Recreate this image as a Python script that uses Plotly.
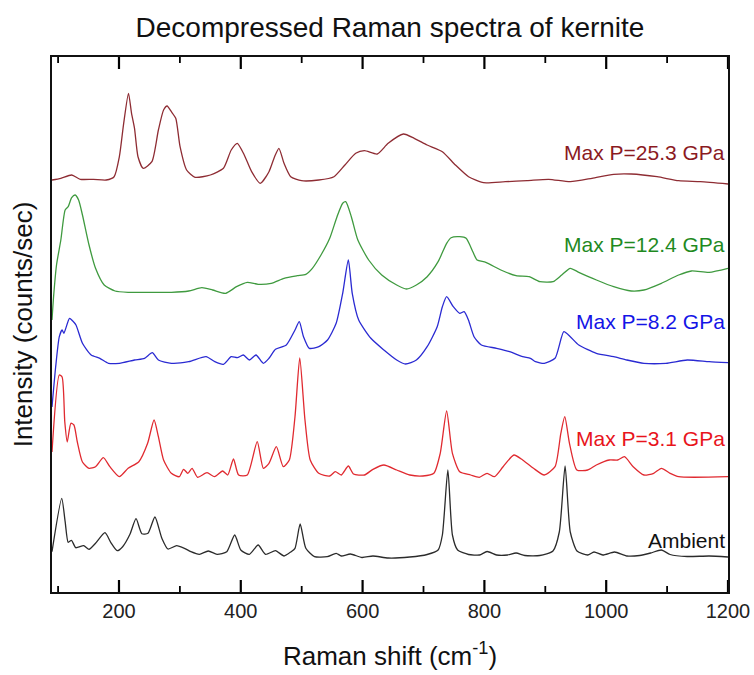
import plotly.graph_objects as go

# Raman shift (cm^-1) and stacked intensity (counts/sec, offset per spectrum)
ambient_x = [90, 106, 111.6, 116.6, 122, 129, 142, 150.8, 161.5, 177, 186.4, 197, 206, 218, 228,
             237.6, 247.6, 259, 270.4, 280.4, 294.6, 307.4, 318, 332, 346.6, 361, 377, 390, 400,
             414, 428.5, 440.6, 457, 471, 482.6, 489, 497.5, 506.8, 521, 542, 556.6, 565, 580,
             599, 617, 642, 677.6, 706, 724, 731, 740, 747.5, 756, 774, 792, 804.4, 820, 838,
             852, 866.4, 891, 912.6, 923, 932.5, 941, 952, 969.6, 980, 994.5, 1013.7, 1034,
             1055, 1073, 1090.6, 1105, 1133, 1169, 1200]
ambient_y = [40.3, 93.7, 70.3, 49.7, 51.7, 44.3, 46.3, 42.7, 48.7, 59.3, 49.7, 41.3, 45.3, 57.7,
             73.3, 58.3, 58.7, 75.0, 53.7, 43.0, 46.3, 43.7, 40.3, 37.7, 41.0, 37.7, 40.3, 57.0,
             42.0, 37.7, 47.0, 37.7, 41.3, 36.0, 40.3, 43.7, 68.0, 43.7, 35.3, 35.3, 38.7, 36.0,
             38.0, 34.5, 36.0, 34.0, 35.0, 37.5, 42.0, 57.0, 122.0, 57.0, 42.0, 37.5, 37.0, 40.5,
             37.0, 37.0, 39.0, 36.5, 36.5, 41.0, 60.0, 126.0, 60.0, 41.0, 37.0, 40.0, 37.0,
             40.0, 36.0, 36.5, 39.0, 42.0, 37.5, 35.5, 36.0, 35.0]

p31_x = [90, 102, 106.6, 111, 115, 121, 126, 131.6, 140, 150.8, 161.5, 174.3, 185, 200.6, 215,
         232.6, 247, 257.6, 264.7, 273.2, 286, 299, 306, 313, 320, 329, 344.5, 357, 370, 378.6,
         388, 396.4, 410.7, 427, 437, 446.3, 458.4, 469.8, 479.7, 489, 496.8, 505.4, 514, 528,
         546, 555.2, 565, 576.6, 585, 603, 617, 635, 656, 677.6, 699, 717, 727.5, 738, 747.5,
         759.5, 777.4, 791.6, 804.4, 816.5, 830.7, 848.5, 862.8, 880.6, 898.4, 916, 925.5, 932,
         939.7, 951.8, 969.6, 983.8, 1005, 1019, 1030, 1044.3, 1062, 1078, 1090.6, 1105, 1119,
         1200]
p31_y = [140.0, 217.0, 215.0, 170.0, 150.0, 168.7, 167.0, 150.0, 130.0, 123.7, 125.3, 134.3,
         125.3, 115.3, 123.7, 130.3, 148.7, 172.0, 155.3, 132.0, 118.7, 115.3, 122.7, 118.7,
         123.7, 114.7, 119.3, 115.3, 121.0, 117.0, 133.0, 117.0, 117.0, 150.3, 123.7, 128.7,
         145.3, 125.3, 132.0, 175.3, 234.0, 172.0, 132.0, 118.7, 116.0, 120.3, 117.0, 126.0,
         118.0, 117.0, 122.7, 127.0, 122.0, 117.0, 116.0, 118.7, 138.7, 181.0, 138.7, 120.3,
         117.0, 114.7, 118.7, 115.3, 125.3, 137.0, 132.0, 123.7, 117.0, 125.3, 158.7, 175.3,
         148.7, 122.0, 122.0, 127.0, 132.0, 132.0, 135.3, 125.3, 117.0, 118.7, 123.7, 118.7,
         115.3, 115.3]

p82_x = [90, 96, 102, 106.6, 109.5, 118.7, 123.7, 129.4, 140, 154.3, 168.6, 182.8, 200.6, 225.5,
         242, 254.7, 264.7, 286, 314.5, 343, 357.3, 371.5, 384.3, 394.3, 404.2, 414.2, 425, 437,
         446.3, 457, 474.7, 489, 496, 503, 512.5, 528.1, 542.4, 556.6, 567.3, 576.6, 583, 593.6,
         613.6, 635, 656, 670.5, 688.3, 706, 722.5, 731, 738, 748.9, 759.5, 766.7, 773.8, 783,
         795, 820, 841.4, 862.8, 875.6, 884, 898.4, 916, 930.4, 941, 955, 983.8, 1012.3, 1034,
         1062, 1098, 1133, 1169, 1200]
p82_y = [185.0, 225.0, 255.3, 262.0, 258.7, 273.7, 271.3, 267.0, 248.7, 237.0, 233.7, 228.7,
         228.7, 232.0, 233.7, 239.3, 232.0, 228.7, 230.3, 235.3, 230.3, 227.7, 235.3, 234.3,
         237.0, 232.0, 237.0, 228.7, 233.7, 242.7, 247.0, 262.0, 270.3, 255.3, 243.7, 245.3,
         252.0, 268.7, 298.7, 332.0, 298.7, 272.0, 253.7, 242.0, 232.0, 228.0, 232.0, 245.3,
         265.3, 285.3, 295.3, 285.3, 278.7, 280.3, 272.0, 255.3, 247.0, 243.7, 240.3, 235.3,
         233.7, 230.3, 228.7, 233.7, 260.3, 255.3, 247.0, 238.7, 235.3, 232.0, 228.7, 228.7,
         232.0, 230.3, 229.3]

p124_x = [90, 92.4, 97.4, 104.5, 111.6, 116.6, 122.3, 128, 133.7, 140, 150.8, 161.5, 175.7,
          193.5, 215, 250.5, 286, 314.5, 336, 353.7, 375, 393, 410.7, 428.5, 450, 471, 492.5,
          506.8, 517.5, 531.7, 546, 558, 567.3, 572.3, 581.5, 592.2, 610, 631.4, 656, 672,
          688.3, 706, 724, 738, 745.3, 759.5, 770, 781, 788, 802.3, 827, 852, 873.5, 891.2,
          912.6, 927, 941, 955, 984, 1012.3, 1041, 1062, 1090.6, 1119, 1140, 1169, 1200]
p124_y = [272.0, 293.7, 327.0, 352.0, 382.0, 385.3, 394.3, 397.0, 392.0, 377.0, 347.0, 323.7,
          307.0, 301.0, 299.7, 299.7, 299.7, 301.0, 304.3, 302.0, 298.7, 305.3, 309.7, 307.7,
          308.7, 313.7, 316.3, 317.7, 323.7, 337.0, 353.7, 375.3, 388.7, 390.3, 375.3, 352.0,
          332.0, 317.0, 307.0, 303.0, 307.0, 315.3, 330.3, 348.7, 354.3, 355.3, 353.7, 340.3,
          332.0, 329.7, 322.0, 316.3, 315.3, 310.3, 310.3, 317.0, 323.7, 319.7, 312.0, 305.3,
          301.0, 302.0, 308.7, 317.0, 321.0, 319.7, 323.7]

p253_x = [90, 104.5, 122.3, 136.5, 158, 179, 192, 200.6, 207.7, 215.6, 220.6, 225.5, 231.2,
          239.8, 254, 264.7, 273.2, 279, 286, 293.2, 300.3, 311, 325, 350, 371.5, 384.3, 394.3,
          405.7, 417.8, 432, 446.3, 455.5, 462.6, 471, 482, 499.7, 528, 553, 571, 588.7, 603,
          624, 642, 667, 684.8, 706, 731, 752.4, 774, 798.7, 834.3, 870, 905.5, 941, 976.7,
          1012.3, 1041, 1083.5, 1119, 1154.7, 1200]
p253_y = [412.0, 413.7, 417.0, 412.7, 412.7, 412.0, 415.3, 435.3, 468.7, 498.7, 478.7, 463.7,
          435.3, 423.7, 430.3, 462.0, 482.0, 486.0, 480.3, 473.7, 445.3, 422.0, 414.7, 417.0,
          423.7, 442.0, 448.7, 437.0, 420.3, 408.7, 420.3, 435.3, 443.7, 428.7, 415.3, 411.3,
          412.0, 415.3, 427.0, 438.7, 441.3, 438.0, 448.7, 458.0, 453.7, 447.0, 440.3, 427.0,
          415.3, 409.3, 410.3, 411.3, 412.7, 410.3, 413.7, 417.7, 418.0, 415.3, 411.3, 410.3,
          408.0]

series_names = ["Ambient", "Max P=3.1 GPa", "Max P=8.2 GPa", "Max P=12.4 GPa", "Max P=25.3 GPa"]
series_x = [ambient_x, p31_x, p82_x, p124_x, p253_x]
series_y = [ambient_y, p31_y, p82_y, p124_y, p253_y]
line_colors = ["#2b2b2b", "#e02a30", "#2a2ad2", "#3f9a3f", "#8e2c33"]
text_colors = ["#111111", "#e8141c", "#1414e6", "#1f8a1f", "#8b1a1f"]
label_y = [52, 154, 271, 348, 440]

major_ticks = [200, 400, 600, 800, 1000, 1200]
minor_ticks = [100, 300, 500, 700, 900, 1100]

FONT = "Liberation Sans, Arial, sans-serif"

fig = go.Figure()
for name, xs, ys, lc in zip(series_names, series_x, series_y, line_colors):
    fig.add_trace(go.Scatter(
        x=xs, y=ys, mode="lines", name=name,
        line=dict(color=lc, width=1.3, shape="spline", smoothing=0.6),
        showlegend=False,
    ))

for name, ly, tc in zip(series_names, label_y, text_colors):
    fig.add_annotation(
        x=1, xref="paper", y=ly, yref="y", text=name, showarrow=False,
        xanchor="right", yanchor="middle", xshift=-1,
        font=dict(family=FONT, size=21, color=tc),
    )

# inward tick marks on the bottom and top frame edges (pixel lengths)
for vals, length, width in [(major_ticks, 12, 2.2), (minor_ticks, 6, 1.8)]:
    for v in vals:
        for edge, sign in [(0, 1), (1, -1)]:
            fig.add_shape(
                type="line", xref="x", yref="paper", x0=v, x1=v,
                ysizemode="pixel", yanchor=edge, y0=0, y1=sign * length,
                line=dict(color="#000000", width=width), layer="above",
            )

fig.update_layout(
    width=754, height=675,
    margin=dict(l=52, r=26, t=57, b=83),
    paper_bgcolor="white", plot_bgcolor="white",
    font=dict(family=FONT, color="#111111"),
    title=dict(text="Decompressed Raman spectra of kernite", x=0.5, xref="paper",
               y=0.96, yanchor="middle", font=dict(size=28, color="#111111")),
    xaxis=dict(
        range=[90, 1200], tickmode="array", tickvals=major_ticks, ticks="",
        showline=True, linewidth=1.8, linecolor="#111111", mirror=True,
        showgrid=False, zeroline=False,
        tickfont=dict(size=20, color="#222222"),
        title=dict(text="Raman shift (cm<sup>-1</sup>)", font=dict(size=26), standoff=26),
        automargin=False,
    ),
    yaxis=dict(
        range=[0, 535], showticklabels=False, ticks="",
        showline=True, linewidth=1.8, linecolor="#111111", mirror=True,
        showgrid=False, zeroline=False,
        title=dict(text="Intensity (counts/sec)", font=dict(size=26), standoff=10),
        automargin=False,
    ),
)

fig.write_html("out.html")
